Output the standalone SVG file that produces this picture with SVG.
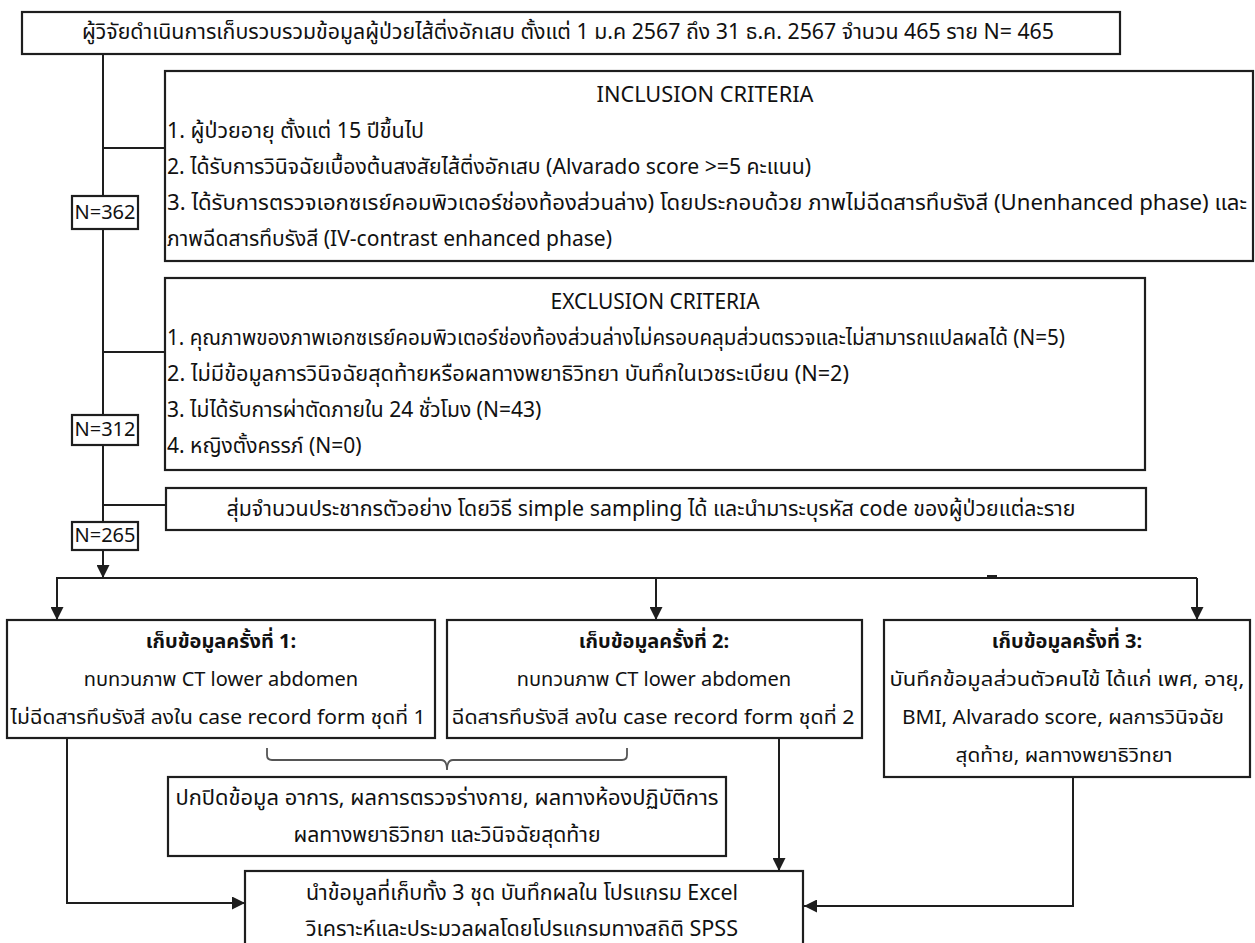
<svg xmlns="http://www.w3.org/2000/svg" width="1255" height="943" viewBox="0 0 1255 943">
<defs>
<style>
.box{fill:#fff;stroke:#1e1e1e;stroke-width:2.2}
.ln{fill:none;stroke:#1e1e1e;stroke-width:2}
.br{fill:none;stroke:#555;stroke-width:1.8}
.t{font-family:"Noto Sans Thai","Leelawadee UI","Open Sans","Noto Sans",sans-serif;font-size:21px;fill:#111;dominant-baseline:central}
.s{font-size:20px}
.c{text-anchor:middle}
.b{font-weight:bold}
</style>
<marker id="ah" viewBox="0 0 10 10" refX="10" refY="5" markerWidth="15" markerHeight="13" markerUnits="userSpaceOnUse" orient="auto">
<path d="M0,0 L10,5 L0,10 z" fill="#1e1e1e"/>
</marker>
</defs>
<rect width="1255" height="943" fill="#fff"/>

<g id="connectors">
<line class="ln" x1="103" y1="54" x2="103" y2="522"/>
<line class="ln" x1="103" y1="550" x2="103" y2="578" marker-end="url(#ah)"/>
<line class="ln" x1="103" y1="148" x2="165" y2="148"/>
<line class="ln" x1="103" y1="352" x2="165" y2="352"/>
<line class="ln" x1="103" y1="505" x2="166" y2="505"/>
<line class="ln" x1="56" y1="578" x2="1197" y2="578"/>
<line x1="987" y1="577" x2="997" y2="577" stroke="#1e1e1e" stroke-width="4"/>
<line class="ln" x1="57" y1="578" x2="57" y2="620" marker-end="url(#ah)"/>
<line class="ln" x1="656" y1="578" x2="656" y2="620" marker-end="url(#ah)"/>
<line class="ln" x1="1197" y1="578" x2="1197" y2="620" marker-end="url(#ah)"/>
<path class="br" d="M267,748 V755 Q267,760 272,760 H441 Q447,760 447,770 Q447,760 453,760 H622 Q627,760 627,755 V748"/>
<polyline class="ln" points="67,738 67,903 245,903" marker-end="url(#ah)"/>
<line class="ln" x1="779" y1="738" x2="779" y2="871" marker-end="url(#ah)"/>
<polyline class="ln" points="1073,777 1073,906 804,906" marker-end="url(#ah)"/>
</g>

<g id="start">
<rect class="box" x="22" y="12" width="1098" height="42"/>
<text class="t c" x="568" y="32" textLength="972" lengthAdjust="spacingAndGlyphs">ผู้วิจัยดำเนินการเก็บรวบรวมข้อมูลผู้ป่วยไส้ติ่งอักเสบ ตั้งแต่ 1 ม.ค 2567 ถึง 31 ธ.ค. 2567 จำนวน 465 ราย N= 465</text>
</g>

<g id="inclusion">
<rect class="box" x="165" y="71" width="1088" height="190"/>
<text class="t c" x="705" y="95" textLength="217" lengthAdjust="spacingAndGlyphs">INCLUSION CRITERIA</text>
<text class="t" x="167" y="131" textLength="257" lengthAdjust="spacingAndGlyphs">1. ผู้ป่วยอายุ ตั้งแต่ 15 ปีขึ้นไป</text>
<text class="t" x="167" y="167" textLength="644" lengthAdjust="spacingAndGlyphs">2. ได้รับการวินิจฉัยเบื้องต้นสงสัยไส้ติ่งอักเสบ (Alvarado score &gt;=5 คะแนน)</text>
<text class="t" x="167" y="203" textLength="1080" lengthAdjust="spacingAndGlyphs">3. ได้รับการตรวจเอกซเรย์คอมพิวเตอร์ช่องท้องส่วนล่าง) โดยประกอบด้วย ภาพไม่ฉีดสารทึบรังสี (Unenhanced phase) และ</text>
<text class="t" x="167" y="239" textLength="445" lengthAdjust="spacingAndGlyphs">ภาพฉีดสารทึบรังสี (IV-contrast enhanced phase)</text>
</g>

<g id="n362">
<rect class="box" x="72" y="196" width="66" height="33"/>
<text class="t s c" x="105" y="212.5">N=362</text>
</g>

<g id="exclusion">
<rect class="box" x="165" y="278" width="980" height="192"/>
<text class="t c" x="655" y="302" textLength="209" lengthAdjust="spacingAndGlyphs">EXCLUSION CRITERIA</text>
<text class="t" x="167" y="338" textLength="898" lengthAdjust="spacingAndGlyphs">1. คุณภาพของภาพเอกซเรย์คอมพิวเตอร์ช่องท้องส่วนล่างไม่ครอบคลุมส่วนตรวจและไม่สามารถแปลผลได้ (N=5)</text>
<text class="t" x="167" y="374" textLength="682" lengthAdjust="spacingAndGlyphs">2. ไม่มีข้อมูลการวินิจฉัยสุดท้ายหรือผลทางพยาธิวิทยา บันทึกในเวชระเบียน (N=2)</text>
<text class="t" x="167" y="410">3. ไม่ได้รับการผ่าตัดภายใน 24 ชั่วโมง (N=43)</text>
<text class="t" x="167" y="446">4. หญิงตั้งครรภ์ (N=0)</text>
</g>

<g id="n312">
<rect class="box" x="72" y="415" width="66" height="30"/>
<text class="t s c" x="105" y="430">N=312</text>
</g>

<g id="sampling">
<rect class="box" x="166" y="488" width="980" height="42"/>
<text class="t c" x="651" y="509" textLength="849" lengthAdjust="spacingAndGlyphs">สุ่มจำนวนประชากรตัวอย่าง โดยวิธี simple sampling ได้ และนำมาระบุรหัส code ของผู้ป่วยแต่ละราย</text>
</g>

<g id="n265">
<rect class="box" x="72" y="522" width="66" height="28"/>
<text class="t s c" x="105" y="536">N=265</text>
</g>

<g id="collect1">
<rect class="box" x="7" y="620" width="428" height="118"/>
<text class="t s c b" x="221" y="642">เก็บข้อมูลครั้งที่ 1:</text>
<text class="t s c" x="221" y="680">ทบทวนภาพ CT lower abdomen</text>
<text class="t s c" x="218" y="718" textLength="415" lengthAdjust="spacingAndGlyphs">ไม่ฉีดสารทึบรังสี ลงใน case record form ชุดที่ 1</text>
</g>

<g id="collect2">
<rect class="box" x="447" y="620" width="415" height="118"/>
<text class="t s c b" x="654" y="642">เก็บข้อมูลครั้งที่ 2:</text>
<text class="t s c" x="654" y="680">ทบทวนภาพ CT lower abdomen</text>
<text class="t s c" x="653" y="718" textLength="403" lengthAdjust="spacingAndGlyphs">ฉีดสารทึบรังสี ลงใน case record form ชุดที่ 2</text>
</g>

<g id="collect3">
<rect class="box" x="884" y="620" width="366" height="157"/>
<text class="t s c b" x="1067" y="642">เก็บข้อมูลครั้งที่ 3:</text>
<text class="t s c" x="1067" y="680" textLength="355" lengthAdjust="spacingAndGlyphs">บันทึกข้อมูลส่วนตัวคนไข้ ได้แก่ เพศ, อายุ,</text>
<text class="t s c" x="1063" y="718" textLength="322" lengthAdjust="spacingAndGlyphs">BMI, Alvarado score, ผลการวินิจฉัย</text>
<text class="t s c" x="1064" y="756" textLength="217" lengthAdjust="spacingAndGlyphs">สุดท้าย, ผลทางพยาธิวิทยา</text>
</g>

<g id="blind">
<rect class="box" x="168" y="777" width="558" height="79"/>
<text class="t c" x="447" y="798" textLength="543" lengthAdjust="spacingAndGlyphs">ปกปิดข้อมูล อาการ, ผลการตรวจร่างกาย, ผลทางห้องปฏิบัติการ</text>
<text class="t c" x="447" y="835" textLength="307" lengthAdjust="spacingAndGlyphs">ผลทางพยาธิวิทยา และวินิจฉัยสุดท้าย</text>
</g>

<g id="analysis">
<rect class="box" x="245" y="871" width="558" height="90"/>
<text class="t c" x="522" y="893" textLength="432" lengthAdjust="spacingAndGlyphs">นำข้อมูลที่เก็บทั้ง 3 ชุด บันทึกผลใน โปรแกรม Excel</text>
<text class="t c" x="522" y="929" textLength="432" lengthAdjust="spacingAndGlyphs">วิเคราะห์และประมวลผลโดยโปรแกรมทางสถิติ SPSS</text>
</g>
</svg>
